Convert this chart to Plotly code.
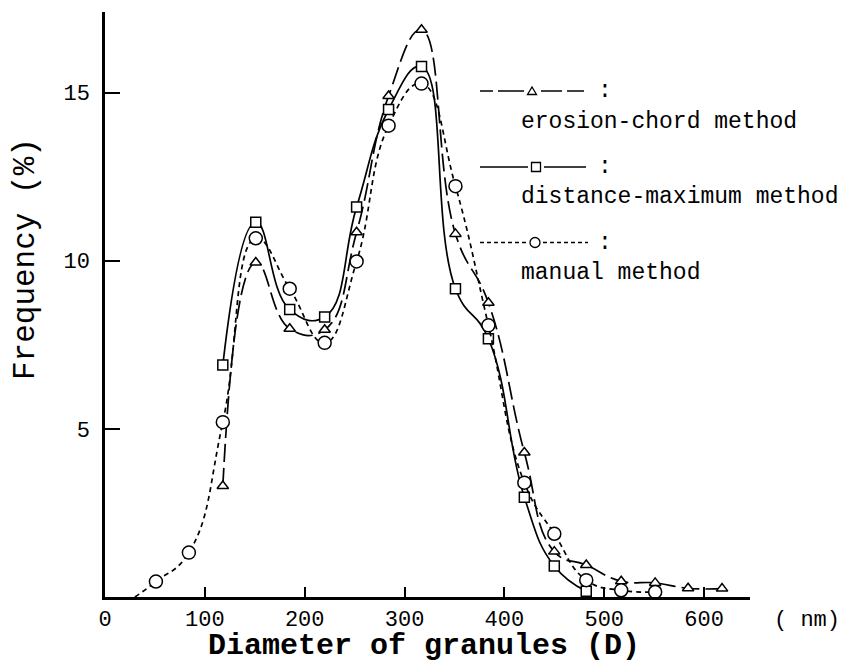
import plotly.graph_objects as go

# ---- data ----
x_erosion = [118, 151, 185, 220, 252, 284, 317, 351, 384, 420, 450, 482, 517, 551, 584, 618]
y_erosion = [3.3, 9.95, 7.98, 7.95, 10.85, 14.9, 16.87, 10.8, 8.75, 4.3, 1.35, 0.95, 0.47, 0.42, 0.26, 0.25]

x_distance = [118, 151, 185, 220, 252, 284, 317, 351, 384, 420, 450, 482]
y_distance = [6.9, 11.15, 8.55, 8.33, 11.6, 14.5, 15.78, 9.17, 7.68, 2.97, 0.92, 0.17]

# first point is where the hand-drawn curve meets the axis (no marker drawn there)
x_manual = [30, 51, 84, 118, 151, 185, 220, 252, 284, 317, 351, 384, 420, 450, 482, 517, 551]
y_manual = [0.0, 0.46, 1.32, 5.2, 10.67, 9.17, 7.56, 9.98, 14.02, 15.27, 12.22, 8.08, 3.4, 1.88, 0.5, 0.2, 0.15]

x_tickvals = [0, 100, 200, 300, 400, 500, 600]
x_ticktext = ["0", "100", "200", "300", "400", "500", "600"]
y_tickvals = [5, 10, 15]
y_ticktext = ["5", "10", "15"]

legend_names = ["erosion-chord method", "distance-maximum method", "manual method"]

# ---- layout geometry (screen pixels; page body adds an 8px offset) ----
W, H = 850, 662
OFF = 8
PLOT_L, PLOT_R, PLOT_T, PLOT_B = 105, 750, 12, 597
PW, PH = PLOT_R - PLOT_L, PLOT_B - PLOT_T


def px(x):
    return (x - PLOT_L) / PW


def py(y):
    return (PLOT_B - y) / PH


MONO = "Liberation Mono, Courier New, monospace"

fig = go.Figure()

mline = dict(color="black", width=1.5)
SM = 1.3

fig.add_trace(go.Scatter(
    x=x_erosion, y=y_erosion, mode="lines+markers", name=legend_names[0],
    line=dict(color="black", width=1.7, dash="18px,6px", shape="spline", smoothing=SM),
    marker=dict(symbol="triangle-up", size=10, color="white", line=mline),
))
fig.add_trace(go.Scatter(
    x=x_distance, y=y_distance, mode="lines+markers", name=legend_names[1],
    line=dict(color="black", width=1.7, shape="spline", smoothing=SM),
    marker=dict(symbol="square", size=10, color="white", line=mline),
))
fig.add_trace(go.Scatter(
    x=x_manual, y=y_manual, mode="lines", name=legend_names[2],
    line=dict(color="black", width=1.7, dash="5px,4px", shape="spline", smoothing=SM),
))
fig.add_trace(go.Scatter(
    x=x_manual[1:], y=y_manual[1:], mode="markers", name=legend_names[2],
    marker=dict(symbol="circle", size=13, color="white", opacity=1, line=mline),
))

# ---- custom legend ----
shapes = []
annotations = []
rows = [
    dict(sym_y=91, text_y=122, segs=[(480, 493), (498, 524), (541, 562), (567, 584)], dash="solid", sym="tri", sx=532),
    dict(sym_y=167, text_y=197, segs=[(480, 528), (544, 586)], dash="solid", sym="sq", sx=536),
    dict(sym_y=242.5, text_y=273, segs=[(480, 527), (543, 588)], dash="4px,3px", sym="circ", sx=535),
]
for i, r in enumerate(rows):
    for (a, b) in r["segs"]:
        shapes.append(dict(type="line", xref="paper", yref="paper",
                           x0=px(a), x1=px(b), y0=py(r["sym_y"]), y1=py(r["sym_y"]),
                           line=dict(color="black", width=1.5, dash=r["dash"])))
    if r["sym"] == "tri":
        shapes.append(dict(type="path", xref="paper", yref="paper", xsizemode="pixel", ysizemode="pixel",
                           xanchor=px(r["sx"]), yanchor=py(r["sym_y"]),
                           path="M -4.5 -3.5 L 4.5 -3.5 L 0 4 Z",
                           line=dict(color="black", width=1.3), fillcolor="white"))
    elif r["sym"] == "sq":
        shapes.append(dict(type="rect", xref="paper", yref="paper", xsizemode="pixel", ysizemode="pixel",
                           xanchor=px(r["sx"]), yanchor=py(r["sym_y"]),
                           x0=-4.5, x1=4.5, y0=-4.5, y1=4.5,
                           line=dict(color="black", width=1.3), fillcolor="white"))
    else:
        shapes.append(dict(type="circle", xref="paper", yref="paper", xsizemode="pixel", ysizemode="pixel",
                           xanchor=px(r["sx"]), yanchor=py(r["sym_y"]),
                           x0=-5, x1=5, y0=-5, y1=5,
                           line=dict(color="black", width=1.3), fillcolor="white"))
    annotations.append(dict(xref="paper", yref="paper", x=px(605), y=py(r["sym_y"]),
                            text=":", showarrow=False, xanchor="center", yanchor="middle",
                            font=dict(family=MONO, size=23, color="black")))
    annotations.append(dict(xref="paper", yref="paper", x=px(519), y=py(r["text_y"]),
                            text=legend_names[i], showarrow=False, xanchor="left", yanchor="middle",
                            font=dict(family=MONO, size=23, color="black")))

# axis titles
annotations.append(dict(xref="paper", yref="paper", x=px(25), y=py(259), text="Frequency (%)",
                        textangle=-90, showarrow=False, xanchor="center", yanchor="middle",
                        font=dict(family=MONO, size=31, color="black")))
annotations.append(dict(xref="paper", yref="paper", x=px(424), y=py(646), text="<b>Diameter of granules (D)</b>",
                        showarrow=False, xanchor="center", yanchor="middle", borderpad=0,
                        font=dict(family=MONO, size=30, color="black")))
annotations.append(dict(xref="paper", yref="paper", x=px(807), y=py(620), text="( nm)",
                        showarrow=False, xanchor="center", yanchor="middle",
                        font=dict(family=MONO, size=22, color="black")))

fig.update_layout(
    width=W, height=H,
    margin=dict(l=PLOT_L - OFF, r=W - PLOT_R + OFF, t=PLOT_T - OFF, b=H - PLOT_B + OFF, pad=0),
    paper_bgcolor="white", plot_bgcolor="white",
    showlegend=False,
    shapes=shapes, annotations=annotations,
    xaxis=dict(range=[0, 646], showgrid=False, zeroline=False, showline=True,
               linecolor="black", linewidth=2.5, ticks="inside", ticklen=10, tickwidth=2,
               tickcolor="black", tickvals=x_tickvals, ticktext=x_ticktext,
               tickfont=dict(family=MONO, size=22, color="black"), ticklabelstandoff=0),
    yaxis=dict(range=[0, 17.4], showgrid=False, zeroline=False, showline=True,
               linecolor="black", linewidth=2.5, ticks="inside", ticklen=15, tickwidth=2,
               tickcolor="black", tickvals=y_tickvals, ticktext=y_ticktext,
               tickfont=dict(family=MONO, size=22, color="black"), ticklabelstandoff=8),
)

fig.write_html("out.html")
